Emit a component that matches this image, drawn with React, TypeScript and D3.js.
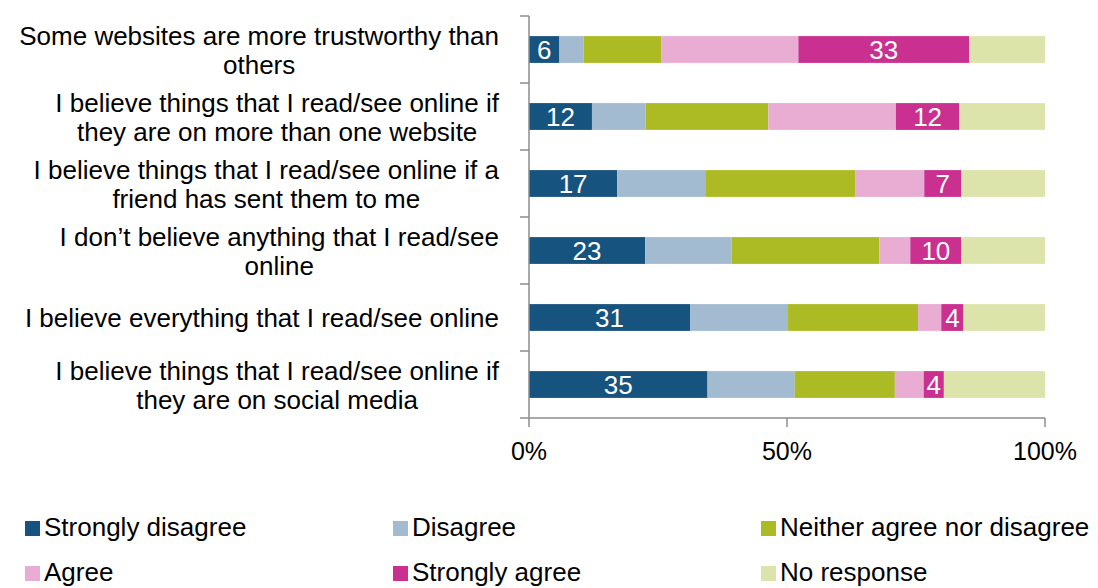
import React, { useEffect, useRef } from "react";
import * as d3 from "d3";

const categories = [
  "Some websites are more trustworthy than\nothers",
  "I believe things that I read/see online if\nthey are on more than one website",
  "I believe things that I read/see online if a\nfriend has sent them to me",
  "I don\u2019t believe anything that I read/see\nonline",
  "I believe everything that I read/see online",
  "I believe things that I read/see online if\nthey are on social media",
];

const seriesNames = [
  "Strongly disagree",
  "Disagree",
  "Neither agree nor disagree",
  "Agree",
  "Strongly agree",
  "No response",
];
const seriesColors = ["#17537f", "#a3bbd0", "#acbb24", "#e9acd2", "#c9308f", "#dce4ab"];

const stronglyDisagree = [5.9, 12.2, 17.1, 22.5, 31.2, 34.6];
const disagree = [4.7, 10.4, 17.2, 16.8, 19.0, 16.9];
const neither = [15.0, 23.8, 28.9, 28.6, 25.2, 19.4];
const agree = [26.6, 24.7, 13.4, 6.0, 4.5, 5.6];
const stronglyAgree = [33.1, 12.3, 7.2, 9.9, 4.3, 3.9];
const noResponse = [14.7, 16.6, 16.2, 16.2, 15.8, 19.6];

const labelledSeries = [0, 4];
const xTicks = [0, 50, 100];

const W = 1098;
const H = 588;

export default function App() {
  const ref = useRef<SVGSVGElement | null>(null);

  useEffect(() => {
    const svg = d3.select(ref.current);
    svg.selectAll("*").remove();

    const series = [stronglyDisagree, disagree, neither, agree, stronglyAgree, noResponse];
    const rows = categories.map((c, i) => {
      const r: any = { cat: c };
      seriesNames.forEach((s, j) => (r[s] = series[j][i]));
      return r;
    });
    const stacked = d3.stack<any>().keys(seriesNames)(rows);

    const x = d3.scaleLinear().domain([0, 100]).range([529, 1045]);
    const y = d3
      .scaleBand<string>()
      .domain(categories)
      .range([16, 418])
      .paddingInner(0.6)
      .paddingOuter(0.3);
    const step = y.step();
    const font = "Liberation Sans, Arial, sans-serif";
    const axisColor = "#8c8c8c";

    // bars
    stacked.forEach((layer, j) => {
      const g = svg.append("g").attr("fill", seriesColors[j]);
      g.selectAll("rect")
        .data(layer)
        .join("rect")
        .attr("x", (d) => x(d[0]))
        .attr("y", (d: any) => y(d.data.cat) as number)
        .attr("width", (d) => x(d[1]) - x(d[0]))
        .attr("height", y.bandwidth());
    });

    // value labels
    labelledSeries.forEach((j) => {
      const layer = stacked[j];
      svg
        .append("g")
        .selectAll("text")
        .data(layer)
        .join("text")
        .attr("x", (d) => (x(d[0]) + x(d[1])) / 2)
        .attr("y", (d: any) => (y(d.data.cat) as number) + y.bandwidth() / 2 + 9)
        .attr("text-anchor", "middle")
        .attr("fill", "#ffffff")
        .attr("font-family", font)
        .attr("font-size", 26)
        .text((d) => String(Math.round(d[1] - d[0])));
    });

    // y axis
    const yTop = 16;
    const yBottom = 418;
    svg
      .append("line")
      .attr("x1", x(0))
      .attr("x2", x(0))
      .attr("y1", yTop)
      .attr("y2", yBottom)
      .attr("stroke", axisColor)
      .attr("stroke-width", 1.5);
    const tickYs = d3.range(categories.length + 1).map((i) => yTop + i * step);
    svg
      .append("g")
      .selectAll("line")
      .data(tickYs)
      .join("line")
      .attr("x1", x(0) - 9)
      .attr("x2", x(0))
      .attr("y1", (d) => d)
      .attr("y2", (d) => d)
      .attr("stroke", axisColor)
      .attr("stroke-width", 1.5);

    // x axis
    svg
      .append("line")
      .attr("x1", x(0))
      .attr("x2", x(100))
      .attr("y1", yBottom)
      .attr("y2", yBottom)
      .attr("stroke", axisColor)
      .attr("stroke-width", 1.5);
    svg
      .append("g")
      .selectAll("line")
      .data(xTicks)
      .join("line")
      .attr("x1", (d) => x(d))
      .attr("x2", (d) => x(d))
      .attr("y1", yBottom)
      .attr("y2", yBottom + 9)
      .attr("stroke", axisColor)
      .attr("stroke-width", 1.5);
    svg
      .append("g")
      .selectAll("text")
      .data(xTicks)
      .join("text")
      .attr("x", (d) => x(d))
      .attr("y", 460)
      .attr("text-anchor", "middle")
      .attr("font-family", font)
      .attr("font-size", 25)
      .attr("fill", "#000")
      .text((d) => d + "%");

    // category labels
    const rightEdge = 499;
    const lineH = 29;
    categories.forEach((c) => {
      const lines = c.split("\n");
      const g = svg.append("g");
      const cy = (y(c) as number) + y.bandwidth() / 2;
      const texts = g
        .selectAll("text")
        .data(lines)
        .join("text")
        .attr("font-family", font)
        .attr("font-size", 26)
        .attr("fill", "#000")
        .attr("text-anchor", "middle")
        .attr("y", (_, i) => cy + 9.5 - ((lines.length - 1) * lineH) / 2 + i * lineH)
        .text((d) => d);
      let maxW = 0;
      texts.each(function () {
        maxW = Math.max(maxW, (this as SVGTextElement).getComputedTextLength());
      });
      texts.attr("x", rightEdge - maxW / 2);
    });

    // legend
    const legendCols = [25, 393, 761];
    const legendRows = [536, 581];
    seriesNames.forEach((s, i) => {
      const lx = legendCols[i % 3];
      const ly = legendRows[Math.floor(i / 3)];
      svg
        .append("rect")
        .attr("x", lx)
        .attr("y", ly - 15)
        .attr("width", 15)
        .attr("height", 15)
        .attr("fill", seriesColors[i]);
      svg
        .append("text")
        .attr("x", lx + 19)
        .attr("y", ly)
        .attr("font-family", font)
        .attr("font-size", 26)
        .attr("fill", "#000")
        .text(s);
    });
  }, []);

  return (
    <svg
      ref={ref}
      width={W}
      height={H}
      style={{ position: "absolute", left: 0, top: 0, background: "#fff" }}
    />
  );
}
